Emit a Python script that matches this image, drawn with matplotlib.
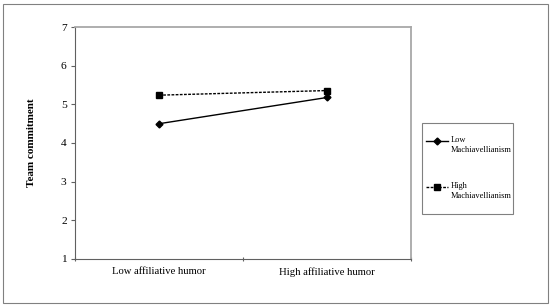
import matplotlib.pyplot as plt
from matplotlib.patches import Rectangle
from matplotlib.lines import Line2D

plt.rcParams['font.family'] = ['Liberation Serif', 'DejaVu Serif']

categories = ['Low affiliative humor', 'High affiliative humor']
low_mach = [4.50, 5.18]
high_mach = [5.24, 5.36]
series_labels = ['Low\nMachiavellianism', 'High\nMachiavellianism']

W, H = 550, 306
fig = plt.figure(figsize=(5.5, 3.06), dpi=100)
ax = fig.add_axes([75 / W, 1 - 258.7 / H, 336 / W, 231.4 / H])

x = [1, 2]
styles = [dict(linestyle='-', marker='D', markersize=3.5),
          dict(linestyle=(0, (2, 1)), marker='s', markersize=4.5)]
for vals, st in zip([low_mach, high_mach], styles):
    ax.plot(x, vals, color='black', linewidth=1.0, **st)

ax.set_xlim(0.5, 2.5)
ax.set_ylim(1, 7)
ax.set_yticks(range(1, 8))
ax.set_xticks([0.5, 1.5, 2.5])
ax.set_xticklabels([])
ax.set_xticks(x, minor=True)
ax.set_xticklabels(categories, minor=True)
ax.tick_params(axis='x', which='minor', length=0, pad=6, labelsize=7.7)
ax.tick_params(axis='x', which='major', length=3, direction='inout', color='#606060')
ax.tick_params(axis='y', length=3, direction='out', color='#606060', labelsize=8.2, pad=3)

for side in ['left', 'bottom']:
    ax.spines[side].set_color('#606060')
for side in ['top', 'right']:
    ax.spines[side].set_color('#a8a8a8')
    ax.spines[side].set_linewidth(1.3)

ax.set_ylabel('Team commitment', fontweight='bold', fontsize=8, labelpad=18)

# legend box drawn by hand so the handle sits on the first label line
fig.patches.append(Rectangle((421.7 / W, 1 - 214 / H), 91.6 / W, 91.3 / H,
                             transform=fig.transFigure, fill=False,
                             edgecolor='#808080', linewidth=0.8))
for lab, st, yy in zip(series_labels, styles, [141, 187]):
    fig.add_artist(Line2D([426 / W, 437 / W, 448 / W], [1 - yy / H] * 3,
                          transform=fig.transFigure, color='black',
                          linewidth=1.0, markevery=[1], **st))
    fig.text(451 / W, 1 - (yy - 4.5) / H, lab, fontsize=6.0, va='top', ha='left',
             linespacing=1.25)

fig.patches.append(Rectangle((3 / W, 3 / H), 545 / W, 299 / H,
                             transform=fig.transFigure, fill=False,
                             edgecolor='#808080', linewidth=0.8))

fig.savefig('out.png', dpi=100)
